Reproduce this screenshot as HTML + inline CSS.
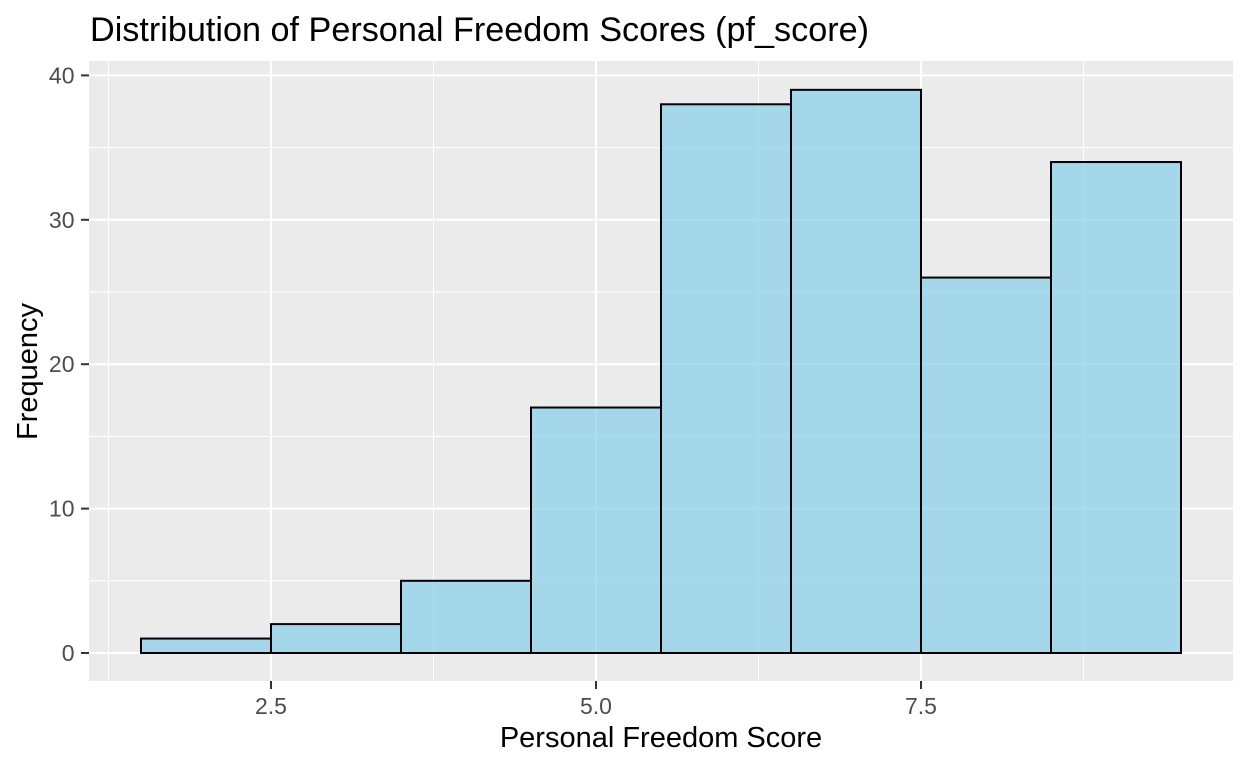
<!DOCTYPE html>
<html>
<head>
<meta charset="utf-8">
<style>
html,body{margin:0;padding:0;background:#fff;width:1248px;height:768px;overflow:hidden}
svg{display:block}
text{font-family:"Liberation Sans",Arial,sans-serif}
</style>
</head>
<body>
<svg id="chart" width="1248" height="768" viewBox="0 0 1248 768" xmlns="http://www.w3.org/2000/svg">
<rect x="0" y="0" width="1248" height="768" fill="#fff"/>
<text x="90" y="41" font-size="34.2" fill="#000">Distribution of Personal Freedom Scores (pf_score)</text>
<rect x="89" y="61" width="1144" height="620" fill="#EBEBEB"/>
<g id="grid"></g>
<g id="bars"></g>
<g id="axes"></g>
<text x="661" y="747" font-size="29" text-anchor="middle" fill="#000">Personal Freedom Score</text>
<text transform="translate(37,371.5) rotate(-90)" font-size="29" text-anchor="middle" fill="#000">Frequency</text>
</svg>
<script>
const binCenters = [2, 3, 4, 5, 6, 7, 8, 9];
const binCounts = [1, 2, 5, 17, 38, 39, 26, 34];
const binWidth = 1;
const xTicks = [2.5, 5.0, 7.5];
const xMinorTicks = [1.25, 3.75, 6.25, 8.75];
const yTicks = [0, 10, 20, 30, 40];
const yMinorTicks = [5, 15, 25, 35];

const NS = 'http://www.w3.org/2000/svg';
const xScale = v => 271 + (v - 2.5) * 130;
const yScale = v => 653 - v * 14.44;

function make(tag, attrs, parent) {
  const el = document.createElementNS(NS, tag);
  for (const k in attrs) el.setAttribute(k, attrs[k]);
  parent.appendChild(el);
  return el;
}

const grid = document.getElementById('grid');
const bars = document.getElementById('bars');
const axes = document.getElementById('axes');

yMinorTicks.forEach(v => {
  const el = make('line', {x1: 89, x2: 1233, y1: yScale(v), y2: yScale(v), stroke: '#fff', 'stroke-width': 1}, grid);
  
  
});
xMinorTicks.forEach(v => {
  const el = make('line', {x1: xScale(v), x2: xScale(v), y1: 61, y2: 681, stroke: '#fff', 'stroke-width': 1}, grid);
  
  
});
yTicks.forEach(v => {
  const el = make('line', {x1: 89, x2: 1233, y1: yScale(v), y2: yScale(v), stroke: '#fff', 'stroke-width': 2}, grid);
  
  
});
xTicks.forEach(v => {
  const el = make('line', {x1: xScale(v), x2: xScale(v), y1: 61, y2: 681, stroke: '#fff', 'stroke-width': 2}, grid);
  
  
});

binCenters.forEach((c, i) => {
  const x0 = xScale(c - binWidth / 2);
  const x1 = xScale(c + binWidth / 2);
  const y = yScale(binCounts[i]);
  const el = make('rect', {x: x0, y: y, width: x1 - x0, height: yScale(0) - y, fill: '#87CEEB', 'fill-opacity': 0.7, stroke: '#000', 'stroke-width': 2}, bars);
  
  
});

xTicks.forEach(v => {
  const t = make('line', {x1: xScale(v), x2: xScale(v), y1: 681, y2: 689, stroke: '#333', 'stroke-width': 2}, axes);
  
  
  const l = make('text', {x: xScale(v), y: 714, 'font-size': 23, 'text-anchor': 'middle', fill: '#4D4D4D'}, axes);
  
  
  l.textContent = v.toFixed(1);
});
yTicks.forEach(v => {
  const t = make('line', {x1: 81, x2: 89, y1: yScale(v), y2: yScale(v), stroke: '#333', 'stroke-width': 2}, axes);
  
  
  const l = make('text', {x: 74.5, y: yScale(v) + 8, 'font-size': 23, 'text-anchor': 'end', fill: '#4D4D4D'}, axes);
  
  
  l.textContent = v;
});
</script>
</body>
</html>
